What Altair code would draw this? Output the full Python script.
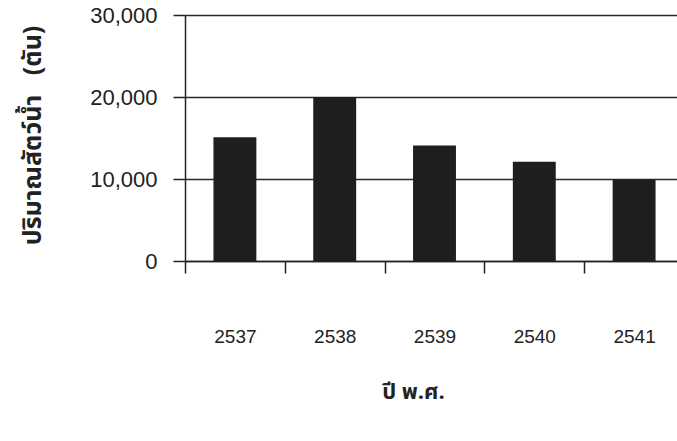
import altair as alt
import pandas as pd

years = ["2537", "2538", "2539", "2540", "2541"]
amounts = [15100, 20000, 14100, 12100, 9900]

df = pd.DataFrame({"year": years, "amount": amounts})

thai_font = "Noto Sans Thai, Tahoma, Loma, Garuda, Liberation Sans, sans-serif"

chart = (
    alt.Chart(df)
    .mark_bar(color="#1e1e1e", width=alt.RelativeBandSize(0.43))
    .encode(
        x=alt.X(
            "year:N",
            sort=years,
            scale=alt.Scale(paddingInner=0, paddingOuter=0, range=[0, 499]),
            axis=alt.Axis(
                title="ปี พ.ศ.",
                labelAngle=0,
                labelFont="Liberation Sans",
                labelFontSize=19,
                labelColor="#222222",
                labelPadding=54,
                tickBand="extent",
                tickSize=12,
                tickColor="#222222",
                tickWidth=1.5,
                domainColor="#222222",
                domainWidth=1.5,
                grid=False,
                titleFont=thai_font,
                titleFontSize=22,
                titleFontWeight="bold",
                titleColor="#222222",
                titleX=228,
                titleY=130,
                titleBaseline="middle",
                titleAlign="center",
            ),
        ),
        y=alt.Y(
            "amount:Q",
            scale=alt.Scale(domain=[0, 30000], nice=False),
            axis=alt.Axis(
                title="ปริมาณสัตว์น้ำ\u00a0\u00a0\u00a0(ตัน)",
                values=[0, 10000, 20000, 30000],
                format=",d",
                labelFont="Liberation Sans",
                labelFontSize=22,
                labelColor="#222222",
                labelPadding=16,
                tickSize=12,
                tickColor="#222222",
                tickWidth=1.5,
                domainColor="#222222",
                domainWidth=1.5,
                grid=True,
                gridColor="#2a2a2a",
                gridWidth=1.5,
                titleFont=thai_font,
                titleFontSize=25,
                titleFontWeight="bold",
                titleColor="#222222",
                titleX=-153,
                titleY=120,
                titleBaseline="middle",
                titleAlign="center",
                titleAngle=270,
            ),
        ),
    )
    .properties(
        width=492,
        height=246,
        padding={"left": 185, "top": 15, "right": 0, "bottom": 180},
        autosize=alt.AutoSizeParams(type="none"),
        background="white",
    )
    .configure_view(stroke=None)
)

chart.save("out.html", embed_options={"renderer": "svg", "actions": False})
